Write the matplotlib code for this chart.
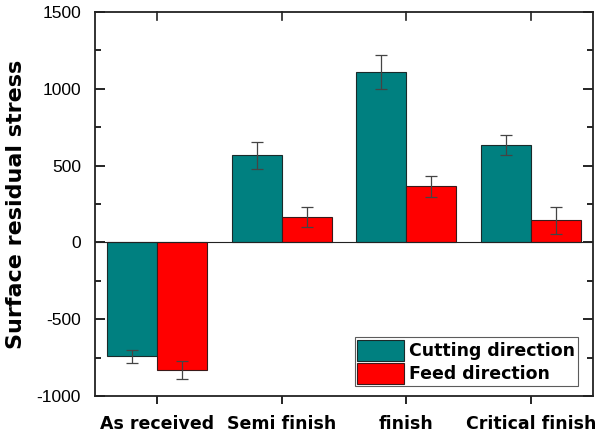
import matplotlib
matplotlib.use("Agg")
import matplotlib.pyplot as plt
import numpy as np

plt.rcParams['font.family'] = ['Liberation Sans', 'DejaVu Sans']
plt.rcParams['axes.unicode_minus'] = False

categories = ["As received", "Semi finish", "finish", "Critical finish"]
cutting = [-742, 566, 1109, 632]
cutting_err = [42, 85, 110, 65]
feed = [-833, 163, 365, 143]
feed_err = [58, 65, 70, 88]

fig = plt.figure(figsize=(6.08, 4.32), dpi=100)
ax = fig.add_axes([95/608, 1-396/432, (593-95)/608, (396-12)/432])

x = np.arange(len(categories))
w = 0.4
ax.bar(x - w/2, cutting, w, color='#008080', edgecolor='#1a2a2a', linewidth=0.8,
       yerr=cutting_err, error_kw=dict(ecolor='#444444', elinewidth=0.9, capsize=4, capthick=0.9),
       label='Cutting direction')
ax.bar(x + w/2, feed, w, color='#ff0000', edgecolor='#3a1a1a', linewidth=0.8,
       yerr=feed_err, error_kw=dict(ecolor='#444444', elinewidth=0.9, capsize=4, capthick=0.9),
       label='Feed direction')
ax.axhline(0, color='#222222', linewidth=0.8)

ax.set_xlim(-0.5, 3.5)
ax.set_ylim(-1000, 1500)
ax.set_yticks([-1000, -500, 0, 500, 1000, 1500])
ax.set_yticks([-750, -250, 250, 750, 1250], minor=True)
ax.set_xticks(x)
ax.set_xticklabels(categories, fontweight='bold', fontsize=12.5, family='DejaVu Sans')
ax.tick_params(axis='y', which='both', direction='in', right=True, labelsize=12.5, width=1.2, pad=10)
ax.tick_params(axis='y', which='major', length=7)
ax.tick_params(axis='y', which='minor', length=4)
ax.tick_params(axis='x', direction='out', length=6, width=1.2, top=False, pad=8)
for xi in x:
    ax.plot([xi, xi], [1500, 1500 - 50], color='#222222', lw=1.2, clip_on=False)
for s in ax.spines.values():
    s.set_linewidth(1.3)
    s.set_color('#222222')

ax.set_ylabel('Surface residual stress', fontweight='bold', fontsize=16,
              family='DejaVu Sans', labelpad=8)

leg = ax.legend(loc='lower right', bbox_to_anchor=(0.97, 0.025),
                prop={'weight': 'bold', 'size': 12.5, 'family': 'DejaVu Sans'},
                frameon=True, fancybox=False,
                edgecolor='#333333', handlelength=2.7, handleheight=1.5,
                borderpad=0.15, labelspacing=0.1, handletextpad=0.3, borderaxespad=0)
leg.get_frame().set_linewidth(0.8)

fig.savefig('out.png', dpi=100)
